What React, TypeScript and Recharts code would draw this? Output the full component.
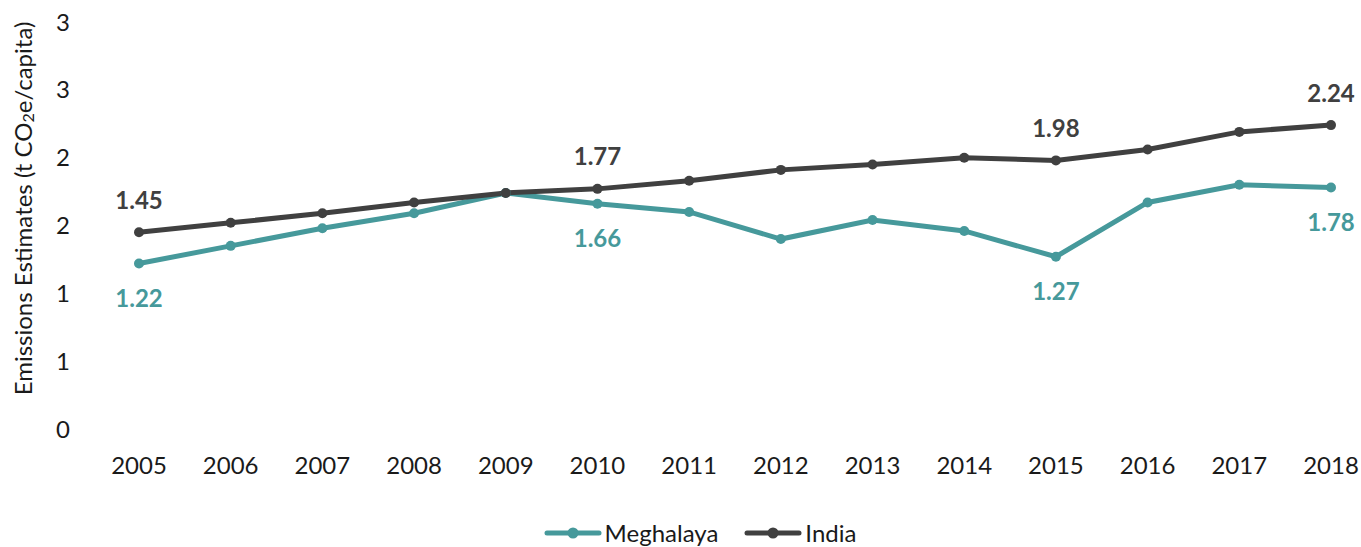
import React from 'react';
import { LineChart, Line, XAxis, YAxis, LabelList, Legend } from 'recharts';

const years = ['2005', '2006', '2007', '2008', '2009', '2010', '2011', '2012', '2013', '2014', '2015', '2016', '2017', '2018'];
const meghalaya = [1.22, 1.35, 1.48, 1.59, 1.74, 1.66, 1.6, 1.4, 1.54, 1.46, 1.27, 1.67, 1.8, 1.78];
const india = [1.45, 1.52, 1.59, 1.67, 1.74, 1.77, 1.83, 1.91, 1.95, 2.0, 1.98, 2.06, 2.19, 2.24];
const yTicks = [0, 0.5, 1, 1.5, 2, 2.5, 3];
// only these points carry a value label
const labelled = [0, 5, 10, 13];

const TEAL = '#46999b';
const DARK = '#404040';
const FONT = 'Lato, "Open Sans", sans-serif';

const data = years.map((year, i) => ({ year, meghalaya: meghalaya[i], india: india[i] }));

const makeLabel = (color: string, dy: number) => (props: any) => {
  const { x, y, value, index } = props;
  if (!labelled.includes(index)) return null;
  return (
    <text x={x} y={y + dy} textAnchor="middle" dominantBaseline="central"
      fill={color} fontSize={24} fontWeight={700} fontFamily={FONT}>
      {Number(value).toFixed(2)}
    </text>
  );
};

const YTitle = (props: any) => {
  const { viewBox } = props;
  const cx = 22;
  const cy = viewBox.y + viewBox.height / 2 - 17;
  return (
    <text transform={`translate(${cx},${cy}) rotate(-90)`} textAnchor="middle"
      dominantBaseline="central" fill="#1a1a1a" fontSize={24} fontFamily={FONT}>
      Emissions Estimates (t CO<tspan fontSize={16} dy={5}>2</tspan>
      <tspan dy={-5}>e/capita)</tspan>
    </text>
  );
};

const LegendContent = () => {
  const items = [
    { name: 'Meghalaya', color: TEAL },
    { name: 'India', color: DARK },
  ];
  return (
    <div style={{ display: 'flex', justifyContent: 'center', gap: 26, fontFamily: FONT, fontSize: 24, color: '#1a1a1a', paddingLeft: 60 }}>
      {items.map((it) => (
        <div key={it.name} style={{ display: 'flex', alignItems: 'center' }}>
          <svg width={58} height={14} style={{ marginRight: 3 }}>
            <line x1={3} y1={7} x2={55} y2={7} stroke={it.color} strokeWidth={5} strokeLinecap="round" />
            <circle cx={29} cy={7} r={5.5} fill={it.color} />
          </svg>
          <span>{it.name}</span>
        </div>
      ))}
    </div>
  );
};

export default function App() {
  return (
    <div style={{ position: 'absolute', left: 0, top: 0, background: '#fff' }}>
      <LineChart width={1361} height={547} data={data} margin={{ top: 22, right: 21, bottom: 42, left: 0 }}>
        <XAxis dataKey="year" axisLine={false} tickLine={false} tickSize={0} tickMargin={28}
          padding={{ left: 39, right: 9 }} height={47}
          tick={{ fill: '#1a1a1a', fontSize: 24, fontFamily: FONT }} interval={0} />
        <YAxis domain={[0, 3]} ticks={yTicks} axisLine={false} tickLine={false} tickSize={0}
          tickMargin={30} width={100} tickFormatter={(v: number) => String(Math.round(v))}
          tick={{ fill: '#1a1a1a', fontSize: 24, fontFamily: FONT }}
          label={<YTitle />} />
        <Legend verticalAlign="bottom" content={<LegendContent />} wrapperStyle={{ bottom: 0 }} />
        <Line type="linear" dataKey="meghalaya" name="Meghalaya" stroke={TEAL} strokeWidth={5}
          dot={{ r: 5, fill: TEAL, stroke: TEAL, strokeWidth: 0 }} isAnimationActive={false}>
          <LabelList dataKey="meghalaya" content={makeLabel(TEAL, 34)} />
        </Line>
        <Line type="linear" dataKey="india" name="India" stroke={DARK} strokeWidth={5}
          dot={{ r: 5, fill: DARK, stroke: DARK, strokeWidth: 0 }} isAnimationActive={false}>
          <LabelList dataKey="india" content={makeLabel(DARK, -33)} />
        </Line>
      </LineChart>
    </div>
  );
}
